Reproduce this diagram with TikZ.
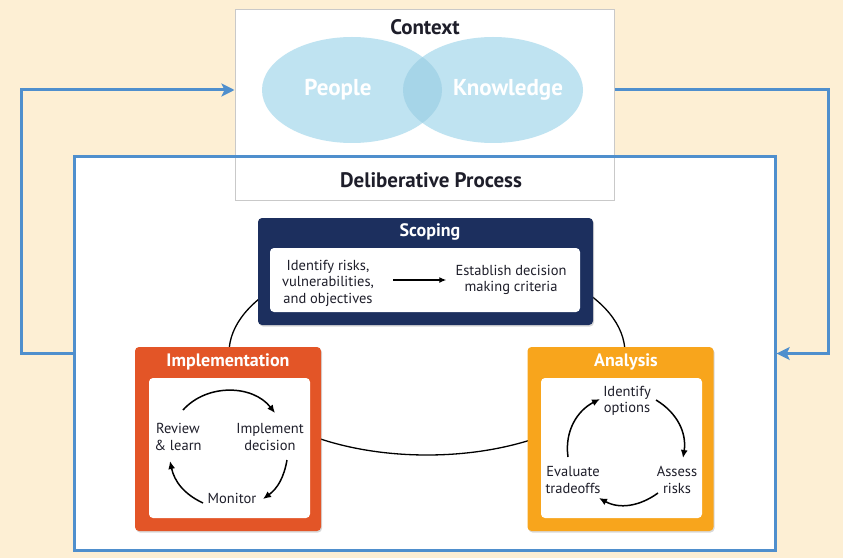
\documentclass[tikz,border=0pt]{standalone}
\usepackage{fontspec}
\setmainfont{PT Sans}
\usetikzlibrary{arrows.meta,shadows}
\definecolor{cream}{HTML}{FDEFD4}
\definecolor{loopblue}{HTML}{4F8FCD}
\definecolor{vennblue}{HTML}{BFE3F1}
\definecolor{vennmid}{HTML}{A6D5E8}
\definecolor{ctxgray}{HTML}{C9C9C9}
\definecolor{navy}{HTML}{1C2F5E}
\definecolor{implred}{HTML}{E35527}
\definecolor{anaorange}{HTML}{F8A51C}
\definecolor{inktext}{HTML}{1E1E2A}
\begin{document}
\begin{tikzpicture}[x=1pt,y=1pt,
  headtext/.style={font=\bfseries\fontsize{18}{20}\selectfont, text=white, inner sep=0pt},
  bigtext/.style={font=\bfseries\fontsize{21}{23}\selectfont, text=inktext, inner sep=0pt},
  venntext/.style={font=\bfseries\fontsize{23}{25}\selectfont, text=white, inner sep=0pt},
  body/.style={font=\fontsize{14.5}{16.5}\selectfont, align=center, inner sep=1pt, text=inktext},
  stagebox/.style={rounded corners=4pt, minimum width=186, minimum height=184,
    drop shadow={shadow xshift=1pt, shadow yshift=-1.5pt, opacity=0.3}},
  innerbox/.style={fill=white, rounded corners=4pt, minimum width=161, minimum height=140},
  cyc/.style={line width=1.5pt, -{Latex[length=8pt,width=7pt]}},
  loopline/.style={draw=loopblue, line width=3pt, -{Stealth[length=13pt,width=13pt,inset=3pt]}}]

% Background
\fill[cream] (0,0) rectangle (843,558);

% Deliberative process and context boxes
\node[fill=white, minimum width=700, minimum height=393] (delib) at (425,204.5) {};
\node[draw=ctxgray, fill=white, line width=1pt, minimum width=379, minimum height=190] (context) at (424.5,453) {};
\node[bigtext] (ctxtitle) at (425,531) {Context};

% Venn
\fill[vennblue] (352,468) ellipse[x radius=90pt, y radius=53pt];
\fill[vennblue] (493,468) ellipse[x radius=90pt, y radius=53pt];
\begin{scope}
  \clip (352,468) ellipse[x radius=90pt, y radius=53pt];
  \fill[vennmid] (493,468) ellipse[x radius=90pt, y radius=53pt];
\end{scope}
\node[venntext] (people) at (338,468) {People};
\node[venntext] (know) at (508,468) {Knowledge};

\draw[draw=loopblue, line width=3pt] (delib.north west) rectangle (delib.south east);
\node[bigtext] (delibtitle) at (431,378) {Deliberative Process};

% Feedback loop
\draw[loopline] (delib.west) -- ++(-53,0) |- (context.west |- people);
\draw[loopline, shorten >=1.5pt] (context.east |- know) -- ++(214,0) |- (delib.east);

% Ring behind the stages
\draw[line width=1.3pt] (427,205) ellipse[x radius=198pt, y radius=102pt];

% Scoping
\node[stagebox, fill=navy, minimum width=335, minimum height=107] (scoping) at (425.5,286.5) {};
\node[headtext] (scopetitle) at (430,326) {Scoping};
\node[innerbox, minimum width=310, minimum height=64] (scopein) at (425,278) {};
\node[body] (risks) at (328,275) {Identify risks,\\vulnerabilities,\\and objectives};
\node[body] (crit) at (511,278) {Establish decision\\making criteria};
\draw[line width=1.3pt, -{Latex[length=7pt,width=6pt]}, shorten <=18pt, shorten >=8pt] (risks.east |- crit.west) -- (crit.west);

% Implementation
\node[stagebox, fill=implred] (impl) at (228,119) {};
\node[headtext] (impltitle) at (228,196) {Implementation};
\node[innerbox] (implin) at (229.5,110) {};
\node[body] (review) at (178,121) {Review\\\& learn};
\node[body] (implement) at (270,121) {Implement\\decision};
\node[body] (monitor) at (232,60) {Monitor};
\draw[cyc] ([shift={(5,27)}]review.center) to[out=48, in=128] ([shift={(5,24)}]implement.center);
\draw[cyc] ([shift={(17,-23)}]implement.center) to[out=-100, in=36] ([shift={(31,-1)}]monitor.center);
\draw[cyc] ([shift={(-29,-5)}]monitor.center) to[out=155, in=-78] ([shift={(-8,-24)}]review.center);

% Analysis
\node[stagebox, fill=anaorange] (analysis) at (620.5,119) {};
\node[headtext] (anatitle) at (626,196) {Analysis};
\node[innerbox] (anain) at (621.5,110) {};
\node[body] (options) at (627,157) {Identify\\options};
\node[body] (assess) at (677,78) {Assess\\risks};
\node[body] (evaluate) at (573,78) {Evaluate\\tradeoffs};
\draw[cyc] ([shift={(29,1)}]options.center) to[out=-31, in=81] ([shift={(6,22)}]assess.center);
\draw[cyc] ([shift={(-19,-13)}]assess.center) to[out=-144, in=-29] ([shift={(26,-18)}]evaluate.center);
\draw[cyc] ([shift={(-5,23)}]evaluate.center) to[out=98, in=207] ([shift={(-27,2)}]options.center);
\end{tikzpicture}
\end{document}
